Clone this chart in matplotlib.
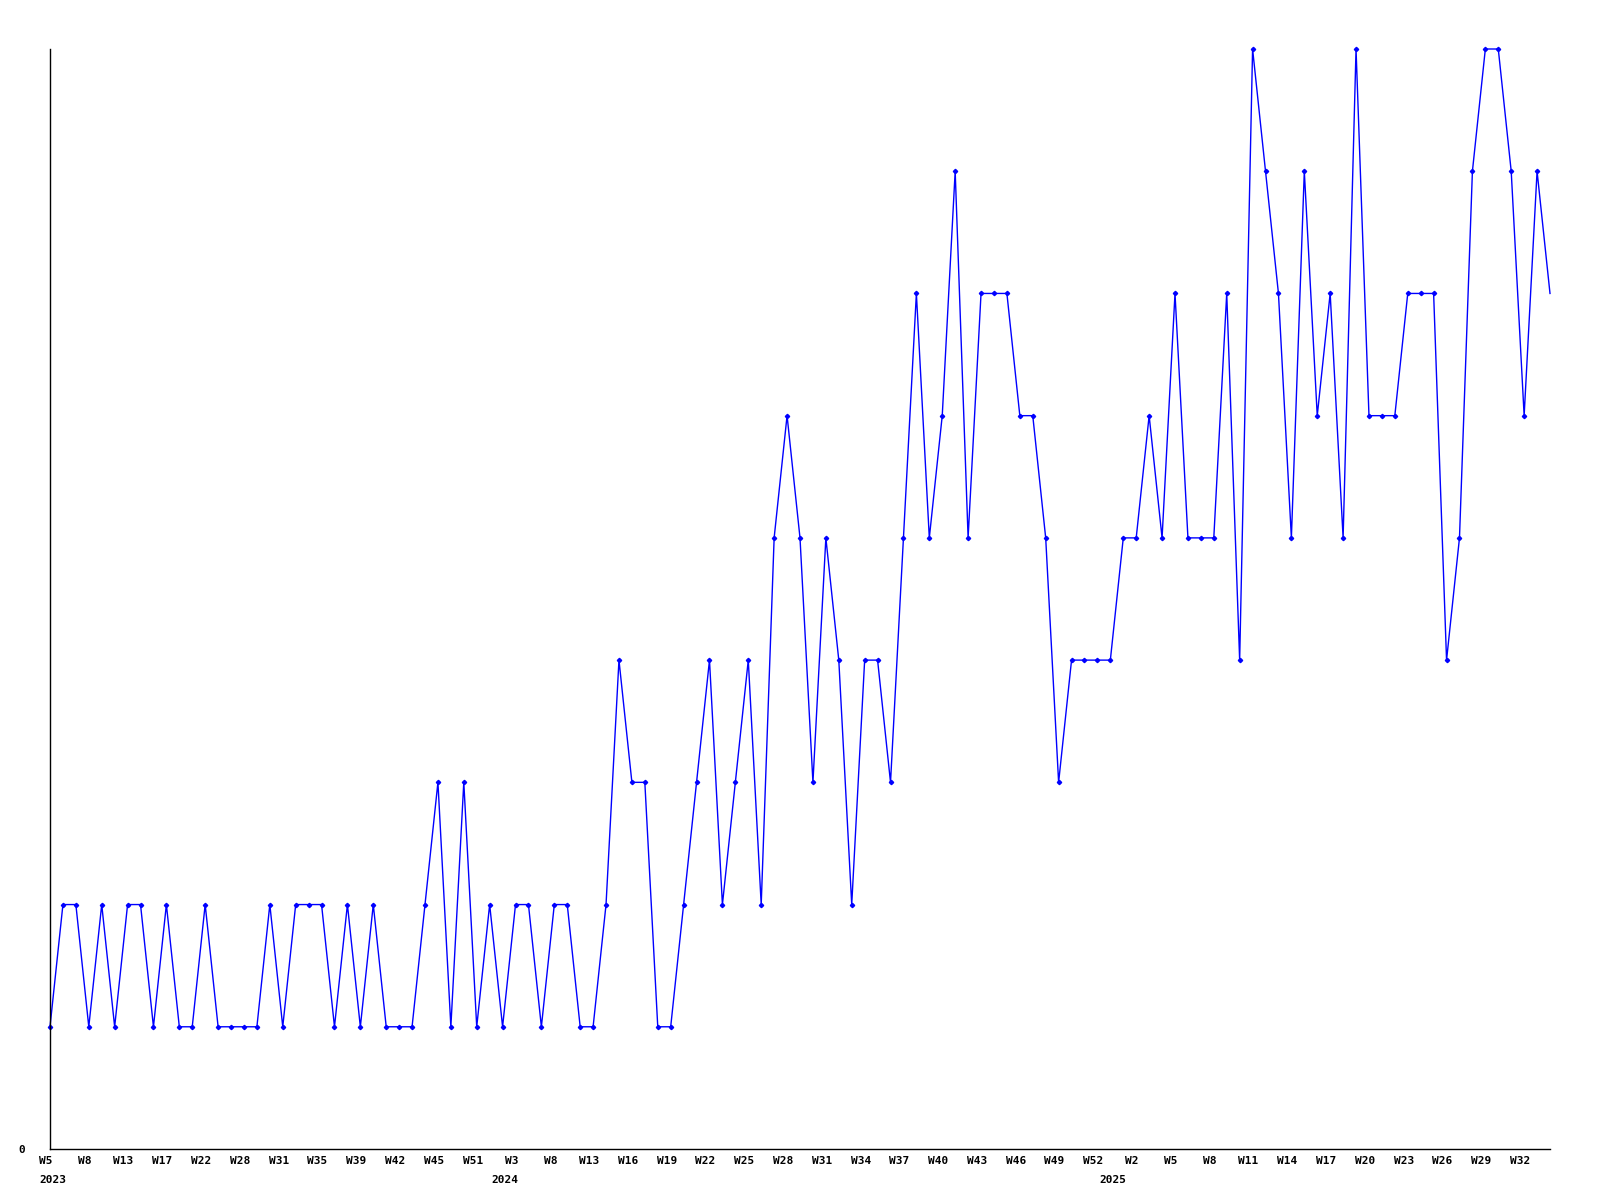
import matplotlib.pyplot as plt
import matplotlib.transforms as mtransforms

# weekly counts (one value per plotted week)
values = [1, 2, 2, 1, 2, 1, 2, 2, 1, 2, 1, 1, 2, 1, 1, 1, 1, 2, 1, 2,
          2, 2, 1, 2, 1, 2, 1, 1, 1, 2, 3, 1, 3, 1, 2, 1, 2, 2, 1, 2,
          2, 1, 1, 2, 4, 3, 3, 1, 1, 2, 3, 4, 2, 3, 4, 2, 5, 6, 5, 3,
          5, 4, 2, 4, 4, 3, 5, 7, 5, 6, 8, 5, 7, 7, 7, 6, 6, 5, 3, 4,
          4, 4, 4, 5, 5, 6, 5, 7, 5, 5, 5, 7, 4, 9, 8, 7, 5, 8, 6, 7,
          5, 9, 6, 6, 6, 7, 7, 7, 4, 5, 8, 9, 9, 8, 6, 8, 7]

# every third point carries a week label
week_labels = ["W5", "W8", "W13", "W17", "W22", "W28", "W31", "W35", "W39",
               "W42", "W45", "W51", "W3", "W8", "W13", "W16", "W19", "W22",
               "W25", "W28", "W31", "W34", "W37", "W40", "W43", "W46", "W49",
               "W52", "W2", "W5", "W8", "W11", "W14", "W17", "W20", "W23",
               "W26", "W29", "W32"]
year_labels = ["2023", "2024", "2025"]
year_pos = [0.25, 35.2, 82.2]

x = list(range(len(values)))
tick_pos = x[::3][:len(week_labels)]

fig = plt.figure(figsize=(16, 12), dpi=100)
ax = fig.add_axes([50 / 1600, 51 / 1200, 1500 / 1600, 1100 / 1200])

# last point sits on the right edge, drawn without a marker
ax.plot(x, values, color="#0000ff", lw=1.0, marker="D", markersize=2.2,
        markevery=list(range(len(values) - 1)), clip_on=False)

ax.set_xlim(0, len(values) - 1)
ax.set_ylim(0, 9)

for side in ["top", "right"]:
    ax.spines[side].set_visible(False)
for side in ["left", "bottom"]:
    ax.spines[side].set_color("black")
    ax.spines[side].set_linewidth(1.0)

font = dict(family="DejaVu Sans Mono", weight="bold", size=8)

ax.set_yticks([0])
ax.set_yticklabels(["0"], **font)
ax.tick_params(axis="y", length=0, pad=18)

ax.set_xticks(tick_pos)
ax.set_xticklabels(week_labels, **font)
ax.tick_params(axis="x", length=0, pad=5)
shift = mtransforms.ScaledTranslation(-4 / 100, 0, fig.dpi_scale_trans)
for lbl in ax.get_xticklabels():
    lbl.set_transform(lbl.get_transform() + shift)

trans = mtransforms.blended_transform_factory(ax.transData, ax.transAxes)
for pos, yr in zip(year_pos, year_labels):
    ax.annotate(yr, xy=(pos, 0), xycoords=trans, xytext=(0, -22),
                textcoords="offset points", ha="center", va="center", **font)

fig.savefig("out.png", dpi=100)
